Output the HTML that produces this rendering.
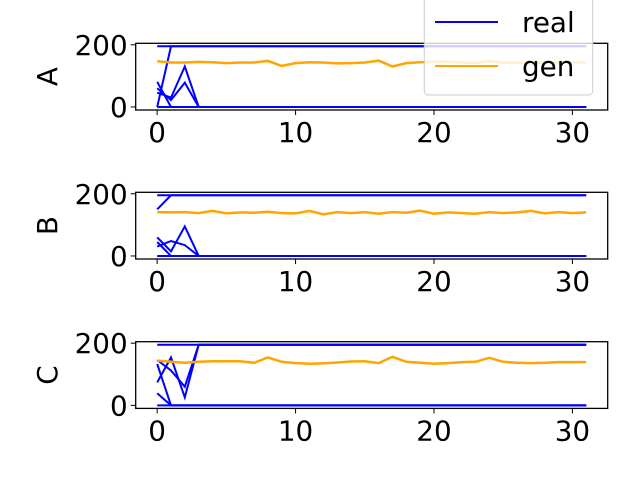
<!DOCTYPE html>
<html><head><meta charset="utf-8"><style>
body{margin:0;background:#fff}
svg{display:block;font-family:"DejaVu Sans","Liberation Sans",sans-serif}
</style></head><body>
<svg id="chart" width="640" height="480" xmlns="http://www.w3.org/2000/svg"></svg>
<script>
const xTicks=[0,10,20,30];
const yTicks=[0,200];
const panelNames=["A","B","C"];
const realA=[[0,195,195,195],[81,0,0,0],[46,30,130,0],[60,22,78,0],[195,195,195,195],[0,0,0,0]];
const realB=[[150,195,195,195],[45,0,0,0],[30,48,35,0],[60,15,95,0],[195,195,195,195],[0,0,0,0]];
const realC=[[74,154,26,195],[133,0,0,0],[146,112,60,195],[39,0,0,0],[195,195,195,195],[0,0,0,0]];
const genA=[147,143,143,145,144,141,143,143,148,132,141,144,143,140,141,143,149,130,141,144,145,146,143,141,148,142,143,141,143,142,143,143];
const genB=[141,140,141,138,145,137,140,139,142,138,137,145,134,141,138,141,136,141,139,146,136,140,138,136,141,138,140,145,137,141,138,140];
const genC=[144,140,137,140,142,142,142,137,154,140,136,134,135,138,141,142,136,156,140,137,134,136,139,140,153,140,137,136,137,139,139,139];
const realSets=[realA,realB,realC];
const genSets=[genA,genB,genC];
const N=32;
const svg=document.getElementById('chart');
const NS="http://www.w3.org/2000/svg";
const L=135.7,R=607.7,xmin=-1.55,xmax=32.55;
const tops=[43.3,192.3,341.7],H=66.7,ymin=-9.75,ymax=204.75;
function sx(v){return L+(v-xmin)/(xmax-xmin)*(R-L);}
function mk(tag,attrs,parent){const e=document.createElementNS(NS,tag);for(const k in attrs)e.setAttribute(k,attrs[k]);(parent||svg).appendChild(e);return e;}
function expand(s){const o=s.slice();while(o.length<N)o.push(s[s.length-1]);return o;}
panelNames.forEach((nm,p)=>{
  const top=tops[p];
  const sy=v=>top+H-(v-ymin)/(ymax-ymin)*H;
  const g=mk('g',{});
  
  
  realSets[p].forEach((s,i)=>{
    const pts=expand(s).map((v,x)=>sx(x).toFixed(1)+','+sy(v).toFixed(1)).join(' ');
    const l=mk('polyline',{points:pts,fill:'none',stroke:'#0000ff','stroke-width':2},g);
    
    
  });
  const gp=genSets[p].map((v,x)=>sx(x).toFixed(1)+','+sy(v).toFixed(1)).join(' ');
  const gl=mk('polyline',{points:gp,fill:'none',stroke:'#ffa500','stroke-width':2.5},g);
  
  
  const fr=mk('rect',{x:L,y:top,width:R-L,height:H,fill:'none',stroke:'#000','stroke-width':1.3},g);
  
  
  xTicks.forEach(t=>{
    const x=sx(t);
    mk('line',{x1:x,x2:x,y1:top+H,y2:top+H+5,stroke:'#000','stroke-width':1},g);
    const tx=mk('text',{x:x,y:top+H+32,'font-size':27.8,'text-anchor':'middle'},g);
    tx.textContent=t;
    
    
  });
  yTicks.forEach(t=>{
    const y=sy(t);
    mk('line',{x1:L-5,x2:L,y1:y,y2:y,stroke:'#000','stroke-width':1},g);
    const tx=mk('text',{x:L-8,y:y+10,'font-size':27.8,'text-anchor':'end'},g);
    tx.textContent=t;
    
    
  });
  const yl=mk('text',{x:0,y:0,'font-size':27.8,'text-anchor':'middle',transform:'translate(57,'+(top+H/2)+') rotate(-90)'},g);
  yl.textContent=nm;
  
  
});
const lg=mk('g',{});


mk('rect',{x:424.3,y:-5,width:168.4,height:100,rx:4,fill:'#fff','fill-opacity':0.8,stroke:'#ccc','stroke-width':1},lg);
[['real','#0000ff',22],['gen','#ffa500',66]].forEach(([t,c,y])=>{
  const ln=mk('line',{x1:435,x2:498,y1:y,y2:y,stroke:c,'stroke-width':2},lg);
  
  
  const tx=mk('text',{x:522,y:y+10,'font-size':27.8},lg);
  tx.textContent=t;
  
  
});
</script>
</body></html>
